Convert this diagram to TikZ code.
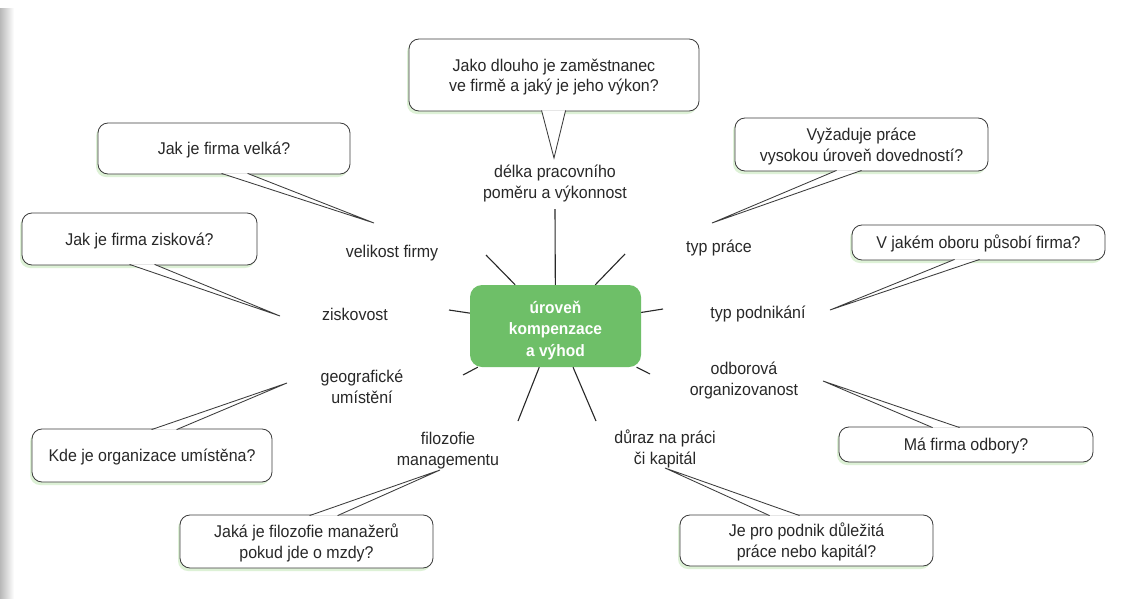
\documentclass[tikz,border=0pt]{standalone}
\usepackage{fontspec}
\setmainfont{Liberation Sans}[FakeStretch=0.94]
\usetikzlibrary{shadows,backgrounds,calc}

\definecolor{hubgreen}{RGB}{110,191,104}
\definecolor{inkgray}{RGB}{40,40,40}
\definecolor{edgegray}{RGB}{60,60,60}
\definecolor{shadowgreen}{RGB}{218,240,210}

\tikzset{
  factor/.style={font=\fontsize{17}{20.5}\selectfont, text=inkgray, align=center, inner sep=0pt, anchor=base},
  question/.style={draw=edgegray, line width=0.85pt, fill=white, rounded corners=10pt,
    font=\fontsize{17}{20.5}\selectfont, text=inkgray, align=center, inner sep=0pt,
    text height=12.5pt, text depth=0pt,
    drop shadow={shadow xshift=-2pt, shadow yshift=-3pt, fill=shadowgreen, opacity=0.9}},
  twolines/.style={text height=33pt},
  hub/.style={fill=hubgreen, rounded corners=12pt, text=white,
    font=\bfseries\fontsize{16.5}{21.5}\selectfont, align=center,
    text height=60pt, text depth=0pt,
    minimum width=171pt, minimum height=82pt, inner sep=0pt},
  spoke/.style={draw=inkgray, line width=1.1pt},
  tailline/.style={draw=edgegray, line width=0.85pt, line join=miter}
}

% speech-bubble tail: node, anchor, two base offsets, inward shift, tip
\newcommand{\qtail}[6]{%
  \begin{scope}[on background layer]
    \fill[shadowgreen, transform canvas={xshift=-2pt,yshift=-3pt}]
      ([xshift=#3pt]#1.#2) -- (#6) -- ([xshift=#4pt]#1.#2) -- cycle;
  \end{scope}
  \fill[white] ([xshift=#3pt,yshift=#5pt]#1.#2) -- (#6) -- ([xshift=#4pt,yshift=#5pt]#1.#2) -- cycle;
  \draw[tailline] ([xshift=#3pt,yshift=#5pt]#1.#2) -- (#6) -- ([xshift=#4pt,yshift=#5pt]#1.#2);
}

\begin{document}
\begin{tikzpicture}[x=1pt, y=-1pt]
  \useasboundingbox (0,0) rectangle (1133,598);
  \fill[white] (0,0) rectangle (1133,598);
  % scanned page edge
  \shade[left color=black!28, right color=white] (0,8) rectangle (14,598);

  % central topic
  \node[hub] (hub) at (555.5,326) {úroveň\\kompenzace\\a výhod};

  % factors
  \node[factor] (delka) at (555,198) {délka pracovního\\poměru a výkonnost};
  \node[factor] (velikost) at (392,257) {velikost firmy};
  \node[factor] (typprace) at (719,252) {typ práce};
  \node[factor] (zisk) at (355,320) {ziskovost};
  \node[factor] (podnik) at (758,318) {typ podnikání};
  \node[factor] (geo) at (362,403) {geografické\\umístění};
  \node[factor] (odbory) at (744,395) {odborová\\organizovanost};
  \node[factor] (filo) at (448,465) {filozofie\\managementu};
  \node[factor] (duraz) at (665,464) {důraz na práci\\či kapitál};

  % spokes around the central topic
  \coordinate (s1) at (555,209);
  \coordinate (s2) at (486,255);
  \coordinate (s3) at (625,254);
  \coordinate (s4) at (449,310);
  \coordinate (s5) at (663,309);
  \coordinate (s6) at (463,375);
  \coordinate (s7) at (650,374);
  \coordinate (s8) at (518,421);
  \coordinate (s9) at (596,421);
  \foreach \s in {s1,s2,s3,s4,s5,s6,s7,s8,s9}
    \draw[spoke] (hub) -- (\s);

  % question bubbles
  \node[question, twolines, minimum width=290pt, minimum height=72pt] (q1) at (554,75)
    {Jako dlouho je zaměstnanec\\ve firmě a jaký je jeho výkon?};
  \node[question, minimum width=252pt, minimum height=51pt] (q2) at (224,148.5)
    {Jak je firma velká?};
  \node[question, minimum width=235pt, minimum height=52pt] (q3) at (139.5,239)
    {Jak je firma zisková?};
  \node[question, minimum width=240pt, minimum height=53pt] (q4) at (152,455.5)
    {Kde je organizace umístěna?};
  \node[question, twolines, minimum width=253pt, minimum height=53pt] (q5) at (306.5,541.5)
    {Jaká je filozofie manažerů\\pokud jde o mzdy?};
  \node[question, twolines, minimum width=253pt, minimum height=51pt] (q6) at (806.5,540.5)
    {Je pro podnik důležitá\\práce nebo kapitál?};
  \node[question, minimum width=254pt, minimum height=35pt] (q7) at (966,444.5)
    {Má firma odbory?};
  \node[question, twolines, minimum width=253pt, minimum height=53pt] (q8) at (861.5,144.5)
    {Vyžaduje práce\\vysokou úroveň dovedností?};
  \node[question, minimum width=253pt, minimum height=35pt] (q9) at (978.5,242.5)
    {V jakém oboru působí firma?};

  % bubble tails pointing at their factors
  \coordinate (t1) at (554,158);
  \coordinate (t2) at (374,223);
  \coordinate (t3) at (280,316);
  \coordinate (t4) at (287,383);
  \coordinate (t5) at (440,470);
  \coordinate (t6) at (665,468);
  \coordinate (t7) at (823,381);
  \coordinate (t8) at (712,223);
  \coordinate (t9) at (830,310);

  \qtail{q1}{south west}{133}{157}{1}{t1}
  \qtail{q2}{south west}{124}{150}{1}{t2}
  \qtail{q3}{south west}{108}{133}{1}{t3}
  \qtail{q4}{north west}{120}{145}{-1}{t4}
  \qtail{q5}{north west}{130}{158}{-1}{t5}
  \qtail{q6}{north west}{90}{120}{-1}{t6}
  \qtail{q7}{north west}{94}{121}{-1}{t7}
  \qtail{q8}{south west}{102}{127}{1}{t8}
  \qtail{q9}{south west}{103}{128}{1}{t9}
\end{tikzpicture}
\end{document}
